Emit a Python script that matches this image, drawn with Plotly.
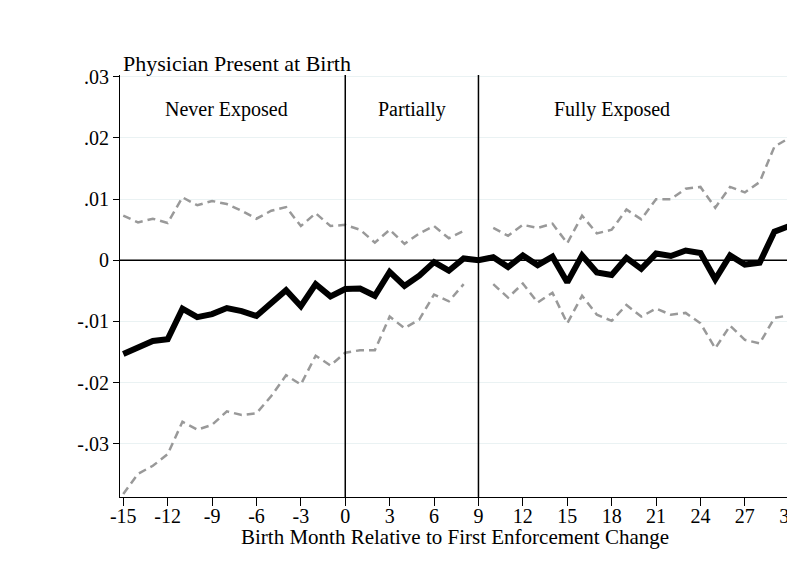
import plotly.graph_objects as go

months = list(range(-15, 31))

estimate = [
    -0.0153, -0.0142, -0.0132, -0.0129, -0.0079, -0.0093, -0.0088, -0.0078,
    -0.0083, -0.0091, -0.0071, -0.0049, -0.0075, -0.0039, -0.0059, -0.0047,
    -0.0046, -0.0058, -0.0019, -0.0042, -0.0025, -0.0003, -0.0017, 0.0003,
    0.0000, 0.0005, -0.0011, 0.0008, -0.0008, 0.0006, -0.0036, 0.0008,
    -0.0020, -0.0024, 0.0004, -0.0014, 0.0011, 0.0007, 0.0016, 0.0012,
    -0.0031, 0.0008, -0.0007, -0.0004, 0.0047, 0.0056,
]

upper_ci = [
    0.0073, 0.0062, 0.0068, 0.0061, 0.0103, 0.0090, 0.0097, 0.0092,
    0.0081, 0.0068, 0.0081, 0.0087, 0.0056, 0.0077, 0.0056, 0.0058,
    0.0050, 0.0029, 0.0050, 0.0027, 0.0044, 0.0056, 0.0036, 0.0048,
    None, 0.0053, 0.0040, 0.0058, 0.0053, 0.0060, 0.0028, 0.0073,
    0.0044, 0.0050, 0.0083, 0.0067, 0.0100, 0.0100, 0.0117, 0.0120,
    0.0086, 0.0120, 0.0111, 0.0128, 0.0186, 0.0200,
]

lower_ci = [
    -0.0382, -0.0349, -0.0336, -0.0317, -0.0264, -0.0277, -0.0269, -0.0247,
    -0.0253, -0.0250, -0.0222, -0.0188, -0.0203, -0.0156, -0.0172, -0.0151,
    -0.0147, -0.0147, -0.0092, -0.0111, -0.0097, -0.0056, -0.0067, -0.0039,
    None, -0.0039, -0.0061, -0.0038, -0.0069, -0.0053, -0.0103, -0.0058,
    -0.0089, -0.0099, -0.0073, -0.0092, -0.0079, -0.0089, -0.0086, -0.0103,
    -0.0144, -0.0107, -0.0130, -0.0136, -0.0094, -0.0090,
]

x_ticks = list(range(-15, 31, 3))
x_ticklabels = [str(v) for v in x_ticks]
y_ticks = [0.03, 0.02, 0.01, 0, -0.01, -0.02, -0.03]
y_ticklabels = [".03", ".02", ".01", "0", "-.01", "-.02", "-.03"]

periods = [("Never Exposed", -8.0), ("Partially", 4.5), ("Fully Exposed", 18.0)]
cutoffs = [0, 9]

FONT = "Liberation Serif, Times New Roman, serif"

fig = go.Figure()

for ci in (upper_ci, lower_ci):
    fig.add_trace(go.Scatter(
        x=months, y=ci, mode="lines",
        line=dict(color="#999999", width=2.5, dash="8px,5px"),
        connectgaps=False, showlegend=False,
    ))

fig.add_trace(go.Scatter(
    x=months, y=estimate, mode="lines",
    line=dict(color="black", width=6),
    showlegend=False,
))

for c in cutoffs:
    fig.add_shape(type="line", x0=c, x1=c, y0=0, y1=1, xref="x", yref="paper",
                  line=dict(color="black", width=1.5))

fig.add_shape(type="line", x0=0, x1=1, y0=0, y1=0, xref="paper", yref="y",
              line=dict(color="black", width=1.5))

for label, xpos in periods:
    fig.add_annotation(x=xpos, y=0.0247, text=label, showarrow=False,
                       font=dict(family=FONT, size=20, color="black"))

fig.add_annotation(x=0, xref="paper", y=1.0, yref="paper", yanchor="bottom",
                   xanchor="left", text="Physician Present at Birth", showarrow=False,
                   font=dict(family=FONT, size=22, color="black"), xshift=1, yshift=-3)

# x axis title as an annotation so it can sit closer to the tick labels
fig.add_annotation(x=0.5, xref="paper", y=0, yref="paper", yanchor="middle",
                   text="Birth Month Relative to First Enforcement Change",
                   showarrow=False, yshift=-40,
                   font=dict(family=FONT, size=21, color="black"))

# the page body adds an 8px offset, so the figure is sized to fill the rest
fig.update_layout(
    width=787, height=568,
    margin=dict(l=112, r=5, t=67, b=79),
    plot_bgcolor="white", paper_bgcolor="white",
    font=dict(family=FONT, color="black"),
    xaxis=dict(
        range=[-15.22, 30.05], tickvals=x_ticks, ticktext=x_ticklabels,
        showgrid=False, zeroline=False, automargin=False,
        ticklabeloverflow="allow", ticklabelstandoff=-7,
        showline=True, linecolor="black", linewidth=1.2,
        ticks="outside", ticklen=8, tickcolor="black",
        tickfont=dict(family=FONT, size=20),
    ),
    yaxis=dict(
        range=[-0.0387, 0.0303], tickvals=y_ticks, ticktext=y_ticklabels,
        showgrid=True, gridcolor="#eaf2f3", gridwidth=1.2, zeroline=False,
        automargin=False,
        showline=True, linecolor="black", linewidth=1.2,
        ticks="outside", ticklen=6, tickcolor="black",
        tickfont=dict(family=FONT, size=20),
    ),
)

fig.write_html("out.html")
